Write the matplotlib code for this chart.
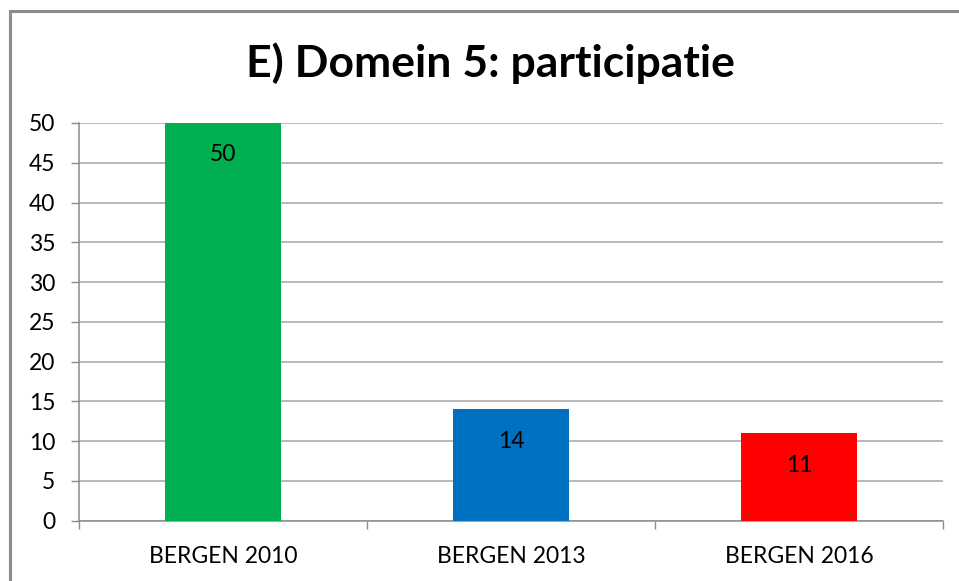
import matplotlib
matplotlib.use('Agg')
import matplotlib.pyplot as plt
from matplotlib.patches import Rectangle

plt.rcParams['font.family'] = ['Lato', 'DejaVu Sans']

categories = ['BERGEN 2010', 'BERGEN 2013', 'BERGEN 2016']
values = [50, 14, 11]
colors = ['#00B050', '#0070C0', '#FF0000']
yticks = [0, 5, 10, 15, 20, 25, 30, 35, 40, 45, 50]
title = 'E) Domein 5: participatie'

fig = plt.figure(figsize=(9.59, 5.81), dpi=100)
ax = fig.add_axes([79/959, 1-520.7/581, (943-79)/959, (520.7-123)/581])

# chart border (runs off the right and bottom edge like the screenshot)
fig.patches.append(Rectangle((10/959, -0.1), 1.2, 1-11/581+0.1, transform=fig.transFigure,
                             fill=False, edgecolor='#8c8c8c', linewidth=2.2, clip_on=False))

x = list(range(len(categories)))
ax.bar(x, values, width=0.4, color=colors, zorder=3)
for i, v in enumerate(values):
    ax.annotate(str(v), xy=(i, v), xytext=(0, -23), textcoords='offset points',
                ha='center', va='center', fontsize=16.5, color='black', zorder=4)

ax.set_xlim(-0.5, 2.5)
ax.set_ylim(0, 50)
ax.set_yticks(yticks)
ax.set_xticks(x)
ax.set_xticklabels(categories)
ax.set_xticks([-0.5, 0.5, 1.5, 2.5], minor=True)
ax.tick_params(axis='x', which='major', length=0, pad=18, labelsize=16.5)
ax.tick_params(axis='x', which='minor', length=6, width=1, color='#8c8c8c', direction='out')
ax.tick_params(axis='y', length=6, width=1, color='#8c8c8c', pad=11, labelsize=16.5)
ax.yaxis.grid(True, color='#a6a6a6', linewidth=1.1, zorder=0)
ax.set_axisbelow(True)
for s in ['top', 'right']:
    ax.spines[s].set_visible(False)
for s in ['left', 'bottom']:
    ax.spines[s].set_color('#8c8c8c')
    ax.spines[s].set_linewidth(1.1)

fig.text(490/959, 1-63/581, title, ha='center', va='center', fontsize=32, fontweight='bold')

fig.savefig('out.png', dpi=100)
